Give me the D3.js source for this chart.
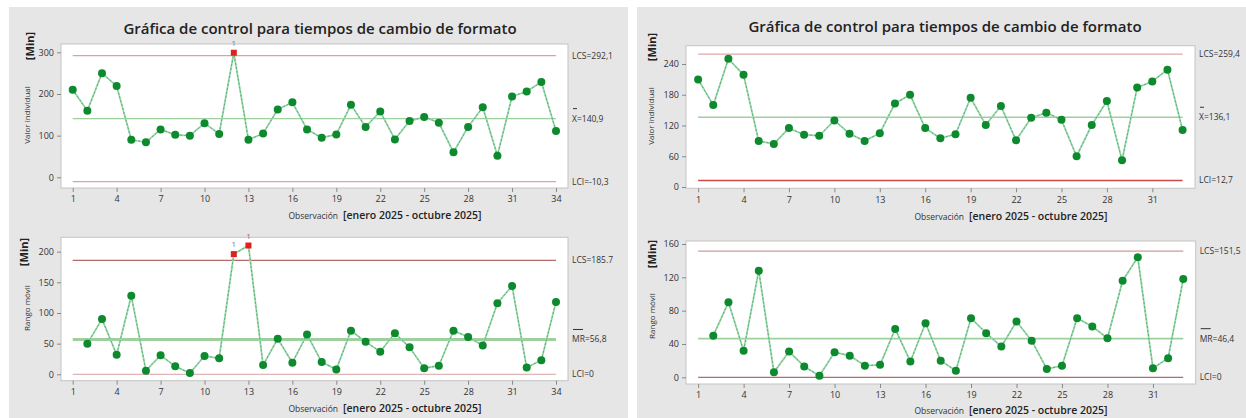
<!DOCTYPE html>
<html>
<head>
<meta charset="utf-8">
<script src="https://cdn.jsdelivr.net/npm/d3@7"></script>
<style>
  body { margin: 0; background: #fff; }
  svg { display: block; font-family: "Open Sans", sans-serif; }
</style>
</head>
<body>
<div id="chart"></div>
<script>
// individual values, all 34 observations
const indivAll = [210, 160, 250, 219, 90, 84, 115, 102, 100, 130, 104, 299, 90, 105, 163, 180, 115,
  95, 103, 174, 121, 158, 91, 135, 145, 131, 60, 121, 168, 52, 194, 206, 229, 111];
// moving ranges (obs 1 has none)
const mrAll = [null, 50, 90, 32, 128, 6, 31, 13, 2, 30, 26, 196, 210, 15, 58, 19, 65,
  20, 8, 71, 53, 37, 67, 44, 10, 14, 71, 61, 47, 116, 144, 11, 23, 118];
// after removing the out-of-control point (33 observations)
const indivClean = [210, 160, 250, 219, 90, 84, 115, 102, 100, 130, 104, 90, 105, 163, 180, 115,
  95, 103, 174, 121, 158, 91, 135, 145, 131, 60, 121, 168, 52, 194, 206, 229, 111];
const mrClean = [null, 50, 90, 32, 128, 6, 31, 13, 2, 30, 26, 14, 15, 58, 19, 65,
  20, 8, 71, 53, 37, 67, 44, 10, 14, 71, 61, 47, 116, 144, 11, 23, 118];

// limits
const limitsIAll = {lcs: 292.1, center: 140.9, lci: -10.3};
const limitsMRAll = {lcs: 185.7, center: 56.8, lci: 0};
const limitsIClean = {lcs: 259.4, center: 136.1, lci: 12.7};
const limitsMRClean = {lcs: 151.5, center: 46.4, lci: 0};

const labelsIAll = ["LCS=292,1", "X=140,9", "LCI=-10,3"];
const labelsMRAll = ["LCS=185.7", "MR=56,8", "LCI=0"];
const labelsIClean = ["LCS=259,4", "X=136,1", "LCI=12,7"];
const labelsMRClean = ["LCS=151,5", "MR=46,4", "LCI=0"];

// out-of-control points (observation numbers)
const redIAll = [12];
const redMRAll = [12, 13];

const xTicksAll = [1, 4, 7, 10, 13, 16, 19, 22, 25, 28, 31, 34];
const xTicksClean = [1, 4, 7, 10, 13, 16, 19, 22, 25, 28, 31];
const yTicksIAll = [0, 100, 200, 300];
const yTicksMRAll = [0, 50, 100, 150, 200];
const yTicksIClean = [0, 60, 120, 180, 240];
const yTicksMRClean = [0, 40, 80, 120, 160];

const title = "Gráfica de control para tiempos de cambio de formato";
const xLabelSmall = "Observación";
const xLabelBig = "[enero 2025 - octubre 2025]";

const W = 1246, H = 418;
const svg = d3.select("#chart").append("svg")
  .attr("width", W)
  .attr("height", H);

// panel backgrounds
svg.append("rect").attr("x", 9).attr("y", 7).attr("width", 619).attr("height", H - 7).attr("fill", "#e6e6e6");
svg.append("rect").attr("x", 637).attr("y", 7).attr("width", W - 637).attr("height", H - 7).attr("fill", "#e6e6e6");

function drawTitle(cx, y) {
  svg.append("text")
    .attr("x", cx)
    .attr("y", y)
    .attr("text-anchor", "middle")
    .style("font-size", "15px")
    .style("font-weight", 600)
    .style("fill", "#222")
    .text(title);
}

function drawChart(o) {
  const g = svg.append("g");
  const n = o.values.length;

  const x = d3.scaleLinear()
    .domain([1 - 0.8, n + 0.82])
    .range([o.left, o.right]);
  const y = d3.scaleLinear()
    .domain(o.yDomain)
    .range([o.bottom, o.top]);

  // plot area
  g.append("rect")
    .attr("x", o.left)
    .attr("y", o.top)
    .attr("width", o.right - o.left)
    .attr("height", o.bottom - o.top)
    .attr("fill", "#fff")
    .attr("stroke", "#c4c4c4");

  // axes
  const ax = g.append("g")
    .attr("transform", `translate(0,${o.bottom})`)
    .call(d3.axisBottom(x).tickValues(o.xTicks).tickSize(4).tickPadding(4));
  const ay = g.append("g")
    .attr("transform", `translate(${o.left},0)`)
    .call(d3.axisLeft(y).tickValues(o.yTicks).tickSize(4).tickPadding(3));
  [ax, ay].forEach(a => {
    a.select(".domain").remove();
    a.selectAll("line").attr("stroke", "#888");
    a.selectAll("text")
      .style("font-size", "9px")
      .style("font-family", "Open Sans")
      .style("fill", "#333");
  });

  // limit lines
  const x0 = x(1), x1 = x(n);
  g.append("line")
    .attr("x1", x0).attr("x2", x1)
    .attr("y1", y(o.limits.lcs)).attr("y2", y(o.limits.lcs))
    .attr("stroke", o.lcsColor).attr("stroke-width", 1.3);
  g.append("line")
    .attr("x1", x0).attr("x2", x1)
    .attr("y1", y(o.limits.lci)).attr("y2", y(o.limits.lci))
    .attr("stroke", o.lciColor).attr("stroke-width", 1.3);
  g.append("line")
    .attr("x1", x0).attr("x2", x1)
    .attr("y1", y(o.limits.center)).attr("y2", y(o.limits.center))
    .attr("stroke", "#9ed09e").attr("stroke-width", o.centerWidth);

  // data line
  const pts = o.values.map((v, i) => ({obs: i + 1, v: v})).filter(d => d.v != null);
  const line = d3.line().x(d => x(d.obs)).y(d => y(d.v));
  g.append("path")
    .datum(pts)
    .attr("d", line)
    .attr("fill", "none")
    .attr("stroke", "#9ad9ad")
    .attr("stroke-width", 1.8);
  g.append("path")
    .datum(pts)
    .attr("d", line)
    .attr("fill", "none")
    .attr("stroke", "#3d9a5a")
    .attr("stroke-width", 0.7)
    .attr("stroke-dasharray", "2,2");

  // points
  const normal = pts.filter(d => !o.red.includes(d.obs));
  const red = pts.filter(d => o.red.includes(d.obs));
  g.selectAll("circle.pt")
    .data(normal)
    .enter()
    .append("circle")
      .attr("class", "pt")
      .attr("cx", d => x(d.obs))
      .attr("cy", d => y(d.v))
      .attr("r", 4)
      .attr("fill", "#0d8a2e");
  g.selectAll("rect.red")
    .data(red)
    .enter()
    .append("rect")
      .attr("class", "red")
      .attr("x", d => x(d.obs) - 3)
      .attr("y", d => y(d.v) - 3)
      .attr("width", 6)
      .attr("height", 6)
      .attr("fill", "#e02020");
  g.selectAll("text.flag")
    .data(red)
    .enter()
    .append("text")
      .attr("class", "flag")
      .attr("x", d => x(d.obs))
      .attr("y", d => y(d.v) - 7)
      .attr("text-anchor", "middle")
      .style("font-size", "8px")
      .style("fill", "#777")
      .text("1");

  // limit labels
  const lx = o.right + 4;
  const lab = (t, v) => g.append("text")
    .attr("x", lx)
    .attr("y", y(v))
    .attr("dy", "0.35em")
    .style("font-size", "8.5px")
    .style("fill", "#333")
    .text(t);
  lab(o.labels[0], o.limits.lcs);
  lab(o.labels[1], o.limits.center);
  lab(o.labels[2], o.limits.lci);
  // bar over X / MR
  const barY = y(o.limits.center) - 10;
  g.append("line")
    .attr("x1", lx + 1).attr("x2", lx + (o.labels[1].startsWith("MR") ? 11 : 5))
    .attr("y1", barY).attr("y2", barY)
    .attr("stroke", "#333").attr("stroke-width", 1);

  // y labels
  g.append("text")
    .attr("transform", `translate(${o.minX},${o.minY}) rotate(-90)`)
    .attr("text-anchor", "middle")
    .attr("dy", "0.35em")
    .style("font-size", "11px")
    .style("font-weight", 700)
    .style("fill", "#222")
    .text("[Min]");
  g.append("text")
    .attr("transform", `translate(${o.yLabX},${o.yLabY}) rotate(-90)`)
    .attr("text-anchor", "middle")
    .attr("dy", "0.35em")
    .style("font-size", "8px")
    .style("fill", "#333")
    .text(o.yLabel);

  // x label
  g.append("text")
    .attr("x", o.xLabX)
    .attr("y", o.xLabY)
    .attr("text-anchor", "end")
    .style("font-size", "8.5px")
    .style("fill", "#333")
    .text(xLabelSmall);
  g.append("text")
    .attr("x", o.xLabX + 5)
    .attr("y", o.xLabY)
    .style("font-size", "10.5px")
    .style("font-weight", 600)
    .style("fill", "#222")
    .text(xLabelBig);
}

drawTitle(320, 34);
drawTitle(945, 32);

drawChart({
  values: indivAll, limits: limitsIAll, labels: labelsIAll, red: redIAll,
  left: 61, right: 568, top: 44, bottom: 188, yDomain: [-25.7, 320],
  xTicks: xTicksAll, yTicks: yTicksIAll,
  lcsColor: "#d9a3a3", lciColor: "#d9a3a3", centerWidth: 1.3,
  minX: 30, minY: 46, yLabX: 27, yLabY: 115, yLabel: "Valor individual",
  xLabX: 338, xLabY: 219
});
drawChart({
  values: mrAll, limits: limitsMRAll, labels: labelsMRAll, red: redMRAll,
  left: 61, right: 568, top: 237.3, bottom: 380.7, yDomain: [-10.4, 223.4],
  xTicks: xTicksAll, yTicks: yTicksMRAll,
  lcsColor: "#b56a6a", lciColor: "#e0b5b5", centerWidth: 3,
  minX: 24, minY: 252, yLabX: 27, yLabY: 308, yLabel: "Rango móvil",
  xLabX: 338, xLabY: 412
});
drawChart({
  values: indivClean, limits: limitsIClean, labels: labelsIClean, red: [],
  left: 686, right: 1195, top: 45.7, bottom: 188.3, yDomain: [-2.5, 275.7],
  xTicks: xTicksClean, yTicks: yTicksIClean,
  lcsColor: "#dba8a8", lciColor: "#d04848", centerWidth: 1.3,
  minX: 652, minY: 47, yLabX: 651, yLabY: 116, yLabel: "Valor individual",
  xLabX: 964, xLabY: 220
});
drawChart({
  values: mrClean, limits: limitsMRClean, labels: labelsMRClean, red: [],
  left: 686, right: 1195.7, top: 241, bottom: 384, yDomain: [-8, 163.6],
  xTicks: xTicksClean, yTicks: yTicksMRClean,
  lcsColor: "#cf9a9a", lciColor: "#b86a6a", centerWidth: 1.8,
  minX: 652, minY: 254, yLabX: 652, yLabY: 316, yLabel: "Rango móvil",
  xLabX: 964, xLabY: 414
});
</script>
</body>
</html>
